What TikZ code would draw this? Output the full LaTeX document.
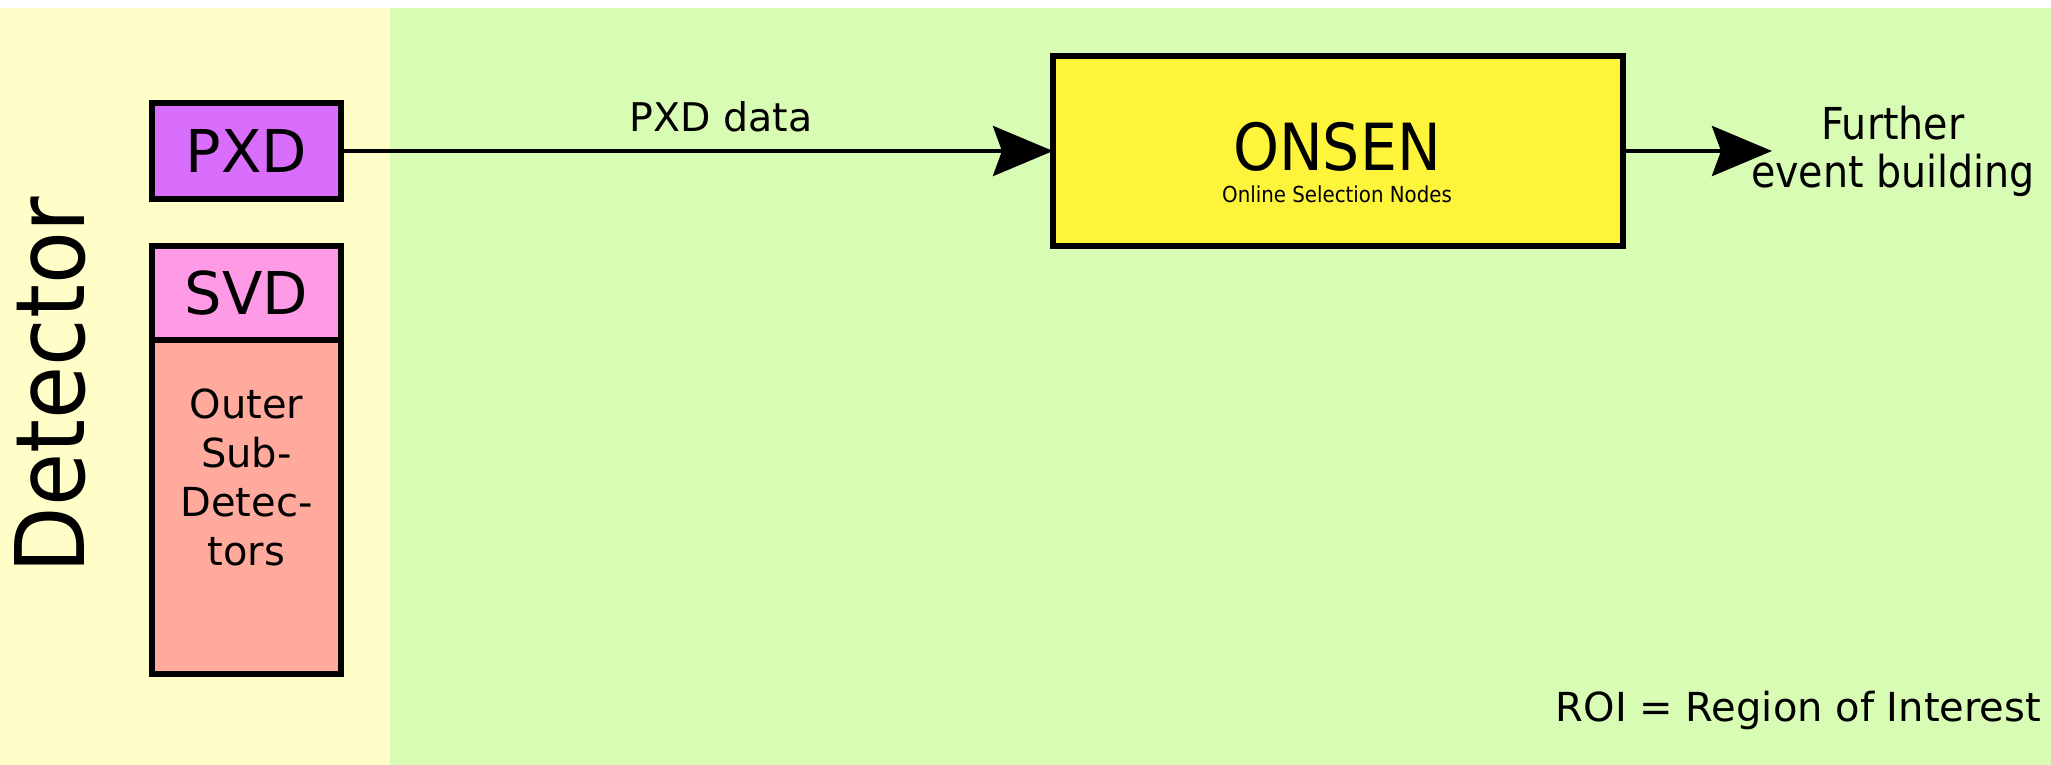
\documentclass[tikz,border=0pt]{standalone}
\usepackage{fontspec}
\setmainfont{DejaVu Sans}
\newfontfamily\cond{DejaVu Sans Condensed}
\usetikzlibrary{arrows.meta}
\definecolor{detbg}{RGB}{255,253,200}
\definecolor{onlbg}{RGB}{217,252,180}
\definecolor{pxdcol}{RGB}{218,110,252}
\definecolor{svdcol}{RGB}{255,155,230}
\definecolor{outcol}{RGB}{255,170,157}
\definecolor{onsencol}{RGB}{255,244,60}
\tikzset{
  box/.style={draw=black, line width=5.5pt, rectangle, inner sep=0pt, outer sep=0pt},
  flow/.style={line width=4.5pt, -{Stealth[length=60pt, width=50pt, inset=9pt]}},
  txt/.style={inner sep=0pt, outer sep=0pt, text=black}
}
\begin{document}
\begin{tikzpicture}[x=1pt, y=-1pt]
\useasboundingbox (0,0) rectangle (2051,765);
\fill[white] (0,0) rectangle (2051,765);
\fill[detbg] (0,8) rectangle (390,765);
\fill[onlbg] (390,8) rectangle (2051,765);

\node[txt, rotate=90, font=\cond\fontsize{96}{110}\selectfont] (det) at (50,385) {Detector};

\node[box, fill=pxdcol, minimum width=189pt, minimum height=96pt, font=\fontsize{59}{70}\selectfont] (pxd) at (246.5,151) {PXD};
\node[box, fill=outcol, minimum width=189pt, minimum height=334pt] (outer) at (246.5,507) {};
\node[box, fill=svdcol, minimum width=189pt, minimum height=94pt, font=\fontsize{59}{70}\selectfont] (svd) at (246.5,293) {SVD};
\node[txt, align=center, font=\fontsize{40}{49}\selectfont] (outertxt) at (246.5,477) {Outer\\Sub-\\Detec-\\tors};

\node[box, fill=onsencol, minimum width=570pt, minimum height=190pt] (onsen) at (1338,151) {};
\node[txt, text depth=0pt, font=\cond\fontsize{65}{70}\selectfont] (onsentxt) at (1337,146) {ONSEN};
\node[txt, font=\cond\fontsize{22}{26}\selectfont] (onsensub) at (1337,194) {Online Selection Nodes};

\draw[flow] (pxd.east) -- (onsen.west);
\node[txt, font=\fontsize{39.5}{46}\selectfont] (pxddata) at (721,117) {PXD data};

\coordinate (outend) at (1772,151);
\draw[flow] (onsen.east) -- (outend);
\node[txt, align=center, font=\cond\fontsize{44}{48}\selectfont] (further) at (1893,151) {Further\\event building};

\node[txt, anchor=base east, font=\fontsize{40}{46}\selectfont] (roi) at (2041,721) {ROI = Region of Interest};
\end{tikzpicture}
\end{document}
